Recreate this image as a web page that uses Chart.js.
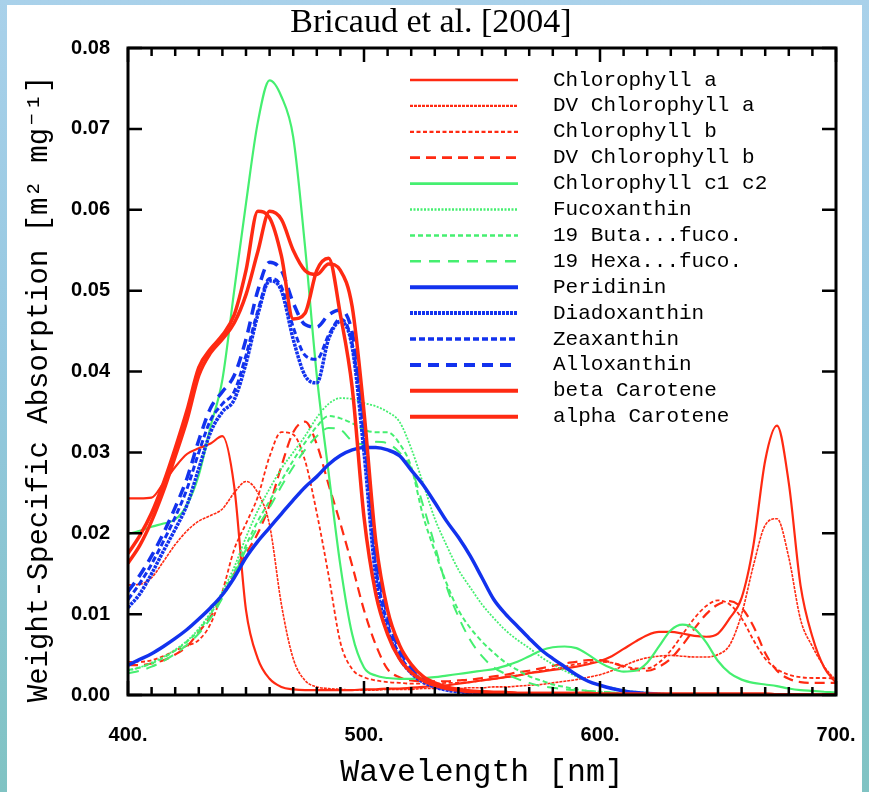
<!DOCTYPE html>
<html>
<head>
<meta charset="utf-8">
<title>Bricaud et al. [2004]</title>
<script src="https://cdn.jsdelivr.net/npm/chart.js@4"></script>
<style>
  html, body { margin: 0; padding: 0; }
  body {
    width: 869px; height: 792px; overflow: hidden; position: relative;
    background: linear-gradient(180deg, #a9d1ea 0%, #95c8e0 45%, #80c3c3 100%);
  }
  #panel { position: absolute; left: 7px; top: 5px; width: 855px; height: 787px; background: #fff; }
  #wrap { position: absolute; left: 0; top: 0; width: 869px; height: 792px; }
</style>
</head>
<body>
<div id="panel"></div>
<div id="wrap"><canvas id="chart" width="869" height="792"></canvas></div>
<script>
// ================================
// Datos
// ================================
const wavelength = [
  400, 405, 410, 415, 420, 425, 430, 435, 440, 445,
  450, 455, 460, 465, 470, 475, 480, 485, 490, 495,
  500, 505, 510, 515, 520, 525, 530, 535, 540, 545,
  550, 555, 560, 565, 570, 575, 580, 585, 590, 595,
  600, 605, 610, 615, 620, 625, 630, 635, 640, 645,
  650, 655, 660, 665, 670, 675, 680, 685, 690, 695,
  700
];

const pigmentNames = [
  "Chlorophyll a", "DV Chlorophyll a", "Chlorophyll b", "DV Chlorophyll b",
  "Chlorophyll c1 c2", "Fucoxanthin", "19 Buta...fuco.", "19 Hexa...fuco.",
  "Peridinin", "Diadoxanthin", "Zeaxanthin", "Alloxanthin",
  "beta Carotene", "alpha Carotene"
];

const chlA = [
  0.0243, 0.0243, 0.0244, 0.0262, 0.0282, 0.0298, 0.0305, 0.0311, 0.0320, 0.0258,
  0.0105, 0.0045, 0.0020, 0.0010, 0.0007, 0.0006, 0.0006, 0.0006, 0.0006, 0.0006,
  0.0007, 0.0007, 0.0008, 0.0008, 0.0009, 0.0010, 0.0011, 0.0012, 0.0014, 0.0016,
  0.0018, 0.0020, 0.0022, 0.0024, 0.0027, 0.0029, 0.0031, 0.0033, 0.0035, 0.0038,
  0.0042, 0.0048, 0.0057, 0.0066, 0.0074, 0.0078, 0.0078, 0.0076, 0.0073, 0.0072,
  0.0076, 0.0095, 0.0120, 0.0185, 0.0290, 0.0333, 0.0262, 0.0135, 0.0072, 0.0034,
  0.0015
];
const dvChlA = [
  0.0136, 0.0137, 0.0145, 0.0165, 0.0186, 0.0203, 0.0215, 0.0222, 0.0230, 0.0250,
  0.0264, 0.0250, 0.0210, 0.0112, 0.0045, 0.0018, 0.0010, 0.0008, 0.0007, 0.0006,
  0.0006, 0.0006, 0.0007, 0.0007, 0.0007, 0.0008, 0.0008, 0.0008, 0.0008, 0.0009,
  0.0009, 0.0010, 0.0010, 0.0011, 0.0012, 0.0013, 0.0015, 0.0017, 0.0019, 0.0022,
  0.0025, 0.0030, 0.0036, 0.0042, 0.0046, 0.0048, 0.0049, 0.0048, 0.0047, 0.0047,
  0.0050, 0.0062, 0.0100, 0.0160, 0.0210, 0.0218, 0.0170, 0.0093, 0.0060, 0.0035,
  0.0018
];
const chlB = [
  0.0041, 0.0041, 0.0043, 0.0048, 0.0055, 0.0061, 0.0068, 0.0088, 0.0128, 0.0180,
  0.0212, 0.0245, 0.0295, 0.0325, 0.0322, 0.0290, 0.0225, 0.0148, 0.0065, 0.0032,
  0.0022, 0.0018, 0.0016, 0.0015, 0.0014, 0.0014, 0.0014, 0.0015, 0.0015, 0.0016,
  0.0018, 0.0020, 0.0022, 0.0024, 0.0027, 0.0030, 0.0032, 0.0035, 0.0038, 0.0040,
  0.0041, 0.0040, 0.0036, 0.0033, 0.0033, 0.0040, 0.0055, 0.0075, 0.0095, 0.0110,
  0.0117, 0.0112, 0.0095, 0.0068, 0.0045, 0.0032, 0.0025, 0.0022, 0.0021, 0.0021,
  0.0020
];
const dvChlB = [
  0.0037, 0.0037, 0.0039, 0.0043, 0.0050, 0.0060, 0.0078, 0.0097, 0.0122, 0.0150,
  0.0175, 0.0200, 0.0235, 0.0283, 0.0325, 0.0338, 0.0310, 0.0260, 0.0212, 0.0160,
  0.0105, 0.0062, 0.0032, 0.0022, 0.0018, 0.0017, 0.0017, 0.0017, 0.0018, 0.0019,
  0.0021, 0.0023, 0.0025, 0.0028, 0.0030, 0.0033, 0.0036, 0.0039, 0.0041, 0.0043,
  0.0043, 0.0040, 0.0035, 0.0031, 0.0030, 0.0035, 0.0045, 0.0062, 0.0082, 0.0100,
  0.0112, 0.0116, 0.0108, 0.0085, 0.0052, 0.0030, 0.0020, 0.0016, 0.0015, 0.0015,
  0.0015
];
const chlC = [
  0.0199, 0.0203, 0.0208, 0.0212, 0.0217, 0.0235, 0.0272, 0.0332, 0.0390, 0.0500,
  0.0608, 0.0708, 0.0760, 0.0740, 0.0690, 0.0555, 0.0395, 0.0275, 0.0160, 0.0075,
  0.0034, 0.0024, 0.0021, 0.0020, 0.0020, 0.0021, 0.0022, 0.0024, 0.0026, 0.0028,
  0.0030, 0.0032, 0.0036, 0.0041, 0.0048, 0.0055, 0.0059, 0.0060, 0.0058, 0.0050,
  0.0040, 0.0033, 0.0029, 0.0030, 0.0040, 0.0060, 0.0080, 0.0087, 0.0082, 0.0065,
  0.0042, 0.0027, 0.0019, 0.0015, 0.0013, 0.0011, 0.0008, 0.0006, 0.0005, 0.0004,
  0.0003
];
const fucox = [
  0.0030, 0.0034, 0.0040, 0.0047, 0.0056, 0.0067, 0.0082, 0.0102, 0.0128, 0.0158,
  0.0195, 0.0228, 0.0255, 0.0280, 0.0300, 0.0320, 0.0343, 0.0360, 0.0367, 0.0366,
  0.0361, 0.0357, 0.0350, 0.0338, 0.0305, 0.0262, 0.0218, 0.0185, 0.0155, 0.0133,
  0.0112, 0.0095, 0.0080, 0.0068, 0.0058, 0.0047, 0.0038, 0.0030, 0.0023, 0.0017,
  0.0012, 0.0009, 0.0006, 0.0004, 0.0003, 0.0002, 0.0001, 0.0001, 0.0000, 0.0000,
  0.0000, 0.0000, 0.0000, 0.0000, 0.0000, 0.0000, 0.0000, 0.0000, 0.0000, 0.0000,
  0.0000
];
const butaFuco = [
  0.0031, 0.0034, 0.0039, 0.0046, 0.0055, 0.0066, 0.0080, 0.0100, 0.0125, 0.0152,
  0.0185, 0.0215, 0.0240, 0.0265, 0.0290, 0.0312, 0.0332, 0.0345, 0.0342, 0.0336,
  0.0328, 0.0325, 0.0325, 0.0311, 0.0282, 0.0222, 0.0178, 0.0138, 0.0105, 0.0083,
  0.0066, 0.0052, 0.0040, 0.0031, 0.0023, 0.0018, 0.0013, 0.0010, 0.0007, 0.0005,
  0.0004, 0.0003, 0.0002, 0.0001, 0.0001, 0.0000, 0.0000, 0.0000, 0.0000, 0.0000,
  0.0000, 0.0000, 0.0000, 0.0000, 0.0000, 0.0000, 0.0000, 0.0000, 0.0000, 0.0000,
  0.0000
];
const hexaFuco = [
  0.0027, 0.0030, 0.0035, 0.0042, 0.0051, 0.0062, 0.0076, 0.0095, 0.0120, 0.0148,
  0.0180, 0.0208, 0.0232, 0.0258, 0.0282, 0.0303, 0.0320, 0.0330, 0.0328, 0.0314,
  0.0310, 0.0313, 0.0311, 0.0300, 0.0280, 0.0235, 0.0185, 0.0134, 0.0097, 0.0068,
  0.0048, 0.0034, 0.0026, 0.0020, 0.0015, 0.0011, 0.0009, 0.0007, 0.0006, 0.0005,
  0.0004, 0.0003, 0.0002, 0.0001, 0.0001, 0.0000, 0.0000, 0.0000, 0.0000, 0.0000,
  0.0000, 0.0000, 0.0000, 0.0000, 0.0000, 0.0000, 0.0000, 0.0000, 0.0000, 0.0000,
  0.0000
];
const peridinin = [
  0.0037, 0.0044, 0.0051, 0.0060, 0.0070, 0.0081, 0.0094, 0.0108, 0.0124, 0.0145,
  0.0170, 0.0190, 0.0207, 0.0224, 0.0241, 0.0257, 0.0270, 0.0285, 0.0296, 0.0303,
  0.0306, 0.0306, 0.0303, 0.0296, 0.0278, 0.0260, 0.0238, 0.0215, 0.0195, 0.0172,
  0.0145, 0.0118, 0.0100, 0.0085, 0.0070, 0.0056, 0.0045, 0.0035, 0.0025, 0.0017,
  0.0012, 0.0008, 0.0005, 0.0003, 0.0002, 0.0001, 0.0000, 0.0000, 0.0000, 0.0000,
  0.0000, 0.0000, 0.0000, 0.0000, 0.0000, 0.0000, 0.0000, 0.0000, 0.0000, 0.0000,
  0.0000
];
const diadox = [
  0.0108, 0.0125, 0.0150, 0.0178, 0.0205, 0.0235, 0.0280, 0.0325, 0.0350, 0.0365,
  0.0410, 0.0470, 0.0512, 0.0500, 0.0440, 0.0395, 0.0386, 0.0440, 0.0462, 0.0430,
  0.0300, 0.0145, 0.0080, 0.0046, 0.0027, 0.0016, 0.0010, 0.0006, 0.0004, 0.0003,
  0.0002, 0.0001, 0.0001, 0.0000, 0.0000, 0.0000, 0.0000, 0.0000, 0.0000, 0.0000,
  0.0000, 0.0000, 0.0000, 0.0000, 0.0000, 0.0000, 0.0000, 0.0000, 0.0000, 0.0000,
  0.0000, 0.0000, 0.0000, 0.0000, 0.0000, 0.0000, 0.0000, 0.0000, 0.0000, 0.0000,
  0.0000
];
const zeax = [
  0.0118, 0.0138, 0.0162, 0.0190, 0.0220, 0.0255, 0.0300, 0.0340, 0.0360, 0.0375,
  0.0420, 0.0475, 0.0515, 0.0505, 0.0455, 0.0420, 0.0415, 0.0445, 0.0465, 0.0435,
  0.0320, 0.0160, 0.0088, 0.0050, 0.0030, 0.0018, 0.0011, 0.0007, 0.0005, 0.0003,
  0.0002, 0.0001, 0.0001, 0.0000, 0.0000, 0.0000, 0.0000, 0.0000, 0.0000, 0.0000,
  0.0000, 0.0000, 0.0000, 0.0000, 0.0000, 0.0000, 0.0000, 0.0000, 0.0000, 0.0000,
  0.0000, 0.0000, 0.0000, 0.0000, 0.0000, 0.0000, 0.0000, 0.0000, 0.0000, 0.0000,
  0.0000
];
const allox = [
  0.0128, 0.0148, 0.0172, 0.0200, 0.0232, 0.0268, 0.0315, 0.0355, 0.0375, 0.0395,
  0.0440, 0.0500, 0.0535, 0.0525, 0.0485, 0.0458, 0.0455, 0.0470, 0.0476, 0.0448,
  0.0340, 0.0175, 0.0098, 0.0056, 0.0034, 0.0021, 0.0013, 0.0008, 0.0005, 0.0004,
  0.0002, 0.0001, 0.0001, 0.0000, 0.0000, 0.0000, 0.0000, 0.0000, 0.0000, 0.0000,
  0.0000, 0.0000, 0.0000, 0.0000, 0.0000, 0.0000, 0.0000, 0.0000, 0.0000, 0.0000,
  0.0000, 0.0000, 0.0000, 0.0000, 0.0000, 0.0000, 0.0000, 0.0000, 0.0000, 0.0000,
  0.0000
];
const betaCar = [
  0.0175, 0.0197, 0.0225, 0.0262, 0.0305, 0.0352, 0.0405, 0.0428, 0.0445, 0.0470,
  0.0525, 0.0598, 0.0590, 0.0543, 0.0465, 0.0472, 0.0525, 0.0540, 0.0470, 0.0380,
  0.0220, 0.0125, 0.0075, 0.0045, 0.0028, 0.0018, 0.0012, 0.0008, 0.0006, 0.0004,
  0.0004, 0.0003, 0.0003, 0.0002, 0.0002, 0.0002, 0.0002, 0.0002, 0.0002, 0.0002,
  0.0001, 0.0001, 0.0001, 0.0001, 0.0001, 0.0001, 0.0001, 0.0001, 0.0001, 0.0001,
  0.0001, 0.0001, 0.0001, 0.0001, 0.0001, 0.0000, 0.0000, 0.0000, 0.0000, 0.0000,
  0.0000
];
const alphaCar = [
  0.0163, 0.0185, 0.0215, 0.0252, 0.0295, 0.0340, 0.0395, 0.0423, 0.0440, 0.0460,
  0.0495, 0.0548, 0.0598, 0.0588, 0.0550, 0.0525, 0.0520, 0.0533, 0.0525, 0.0480,
  0.0350, 0.0190, 0.0105, 0.0062, 0.0038, 0.0023, 0.0015, 0.0010, 0.0007, 0.0005,
  0.0004, 0.0003, 0.0003, 0.0002, 0.0002, 0.0002, 0.0002, 0.0002, 0.0002, 0.0002,
  0.0001, 0.0001, 0.0001, 0.0001, 0.0001, 0.0001, 0.0001, 0.0001, 0.0001, 0.0001,
  0.0001, 0.0001, 0.0001, 0.0001, 0.0001, 0.0000, 0.0000, 0.0000, 0.0000, 0.0000,
  0.0000
];

const series = [chlA, dvChlA, chlB, dvChlB, chlC, fucox, butaFuco, hexaFuco,
                peridinin, diadox, zeax, allox, betaCar, alphaCar];

// ================================
// Estilos de línea
// ================================
const RED = "#ff2a12";
const GREEN = "#45ef70";
const BLUE = "#1232ee";
const MONO = '"Liberation Mono", "DejaVu Sans Mono", monospace';
const SERIF = '"Liberation Serif", "DejaVu Serif", serif';
const SANS = '"Liberation Sans", Arial, sans-serif';

const lineStyles = [
  { color: RED,   width: 2.2, dash: [] },
  { color: RED,   width: 1.6, dash: [3, 1] },
  { color: RED,   width: 1.8, dash: [4, 2.5] },
  { color: RED,   width: 2.2, dash: [10, 6] },
  { color: GREEN, width: 2.2, dash: [] },
  { color: GREEN, width: 1.8, dash: [2, 1.5] },
  { color: GREEN, width: 2.0, dash: [5, 3] },
  { color: GREEN, width: 2.0, dash: [11, 8] },
  { color: BLUE,  width: 3.5, dash: [] },
  { color: BLUE,  width: 3.5, dash: [3, 1] },
  { color: BLUE,  width: 3.0, dash: [6, 3] },
  { color: BLUE,  width: 3.5, dash: [11, 7] },
  { color: RED,   width: 3.5, dash: [] },
  { color: RED,   width: 3.5, dash: [] }
];

// ================================
// Plugins: marco con ticks internos y leyenda
// ================================
const frameTicks = {
  id: "frameTicks",
  afterDatasetsDraw(chart) {
    const { ctx, chartArea: a, scales: { x, y } } = chart;
    ctx.save();
    ctx.strokeStyle = "#000";
    ctx.setLineDash([]);
    ctx.lineWidth = 2.5;
    ctx.beginPath();
    for (let v = x.min; v <= x.max; v += 10) {
      const px = x.getPixelForValue(v);
      const len = v % 100 === 0 ? 14 : 8;
      ctx.moveTo(px, a.bottom); ctx.lineTo(px, a.bottom - len);
      ctx.moveTo(px, a.top); ctx.lineTo(px, a.top + len);
    }
    y.ticks.forEach(t => {
      const py = y.getPixelForValue(t.value);
      ctx.moveTo(a.left, py); ctx.lineTo(a.left + 14, py);
      ctx.moveTo(a.right, py); ctx.lineTo(a.right - 14, py);
    });
    ctx.stroke();
    ctx.lineWidth = 3;
    ctx.strokeRect(a.left, a.top, a.right - a.left, a.bottom - a.top);
    ctx.restore();
  }
};

const insideLegend = {
  id: "insideLegend",
  afterDraw(chart) {
    const ctx = chart.ctx;
    ctx.save();
    ctx.font = "21px " + MONO;
    ctx.textBaseline = "middle";
    ctx.fillStyle = "#000";
    chart.data.datasets.forEach((ds, i) => {
      const yy = 80 + i * 25.9;
      ctx.strokeStyle = ds.borderColor;
      ctx.lineWidth = ds.borderWidth + 0.5;
      ctx.setLineDash(ds.borderDash);
      ctx.beginPath();
      ctx.moveTo(410, yy);
      ctx.lineTo(518, yy);
      ctx.stroke();
      ctx.fillText(ds.label, 553, yy);
    });
    ctx.restore();
  }
};

// ================================
// Gráfica
// ================================
const datasets = pigmentNames.map((name, i) => ({
  label: name,
  data: series[i],
  borderColor: lineStyles[i].color,
  borderWidth: lineStyles[i].width,
  borderDash: lineStyles[i].dash,
  pointRadius: 0,
  fill: false,
  cubicInterpolationMode: "monotone",
  order: pigmentNames.length - i
}));

new Chart(document.getElementById("chart"), {
  type: "line",
  data: { labels: wavelength, datasets },
  options: {
    responsive: false,
    animation: false,
    events: [],
    layout: { padding: { left: 26, right: 33, top: 0, bottom: 0 } },
    plugins: {
      legend: { display: false },
      tooltip: { enabled: false },
      title: {
        display: true,
        text: "Bricaud et al. [2004]",
        color: "#000",
        font: { family: SERIF, size: 34, weight: "normal" },
        padding: { top: 3, bottom: 4.2 }
      }
    },
    scales: {
      x: {
        type: "linear",
        min: 400,
        max: 700,
        grid: { display: false, drawTicks: false },
        border: { display: false },
        ticks: {
          stepSize: 100,
          padding: 28,
          maxRotation: 0,
          color: "#000",
          font: { family: SANS, size: 20, weight: "bold" },
          callback: v => v + "."
        },
        title: {
          display: true,
          text: "Wavelength [nm]",
          color: "#000",
          font: { family: MONO, size: 31.5 },
          padding: { top: 0, bottom: 0 }
        },
        afterFit: s => { s.height = 97; s.paddingLeft = 0; s.paddingRight = 0; }
      },
      y: {
        min: 0,
        max: 0.08,
        grid: { display: false, drawTicks: false },
        border: { display: false },
        ticks: {
          stepSize: 0.01,
          padding: 18,
          color: "#000",
          font: { family: SANS, size: 20, weight: "bold" },
          callback: v => v.toFixed(2)
        },
        title: {
          display: true,
          text: "Weight-Specific Absorption [m² mg⁻¹]  ",
          color: "#000",
          font: { family: MONO, size: 29 },
          padding: { top: -4, bottom: 0 }
        },
        afterFit: s => { s.width = 102; }
      }
    }
  },
  plugins: [frameTicks, insideLegend]
});
</script>
</body>
</html>
